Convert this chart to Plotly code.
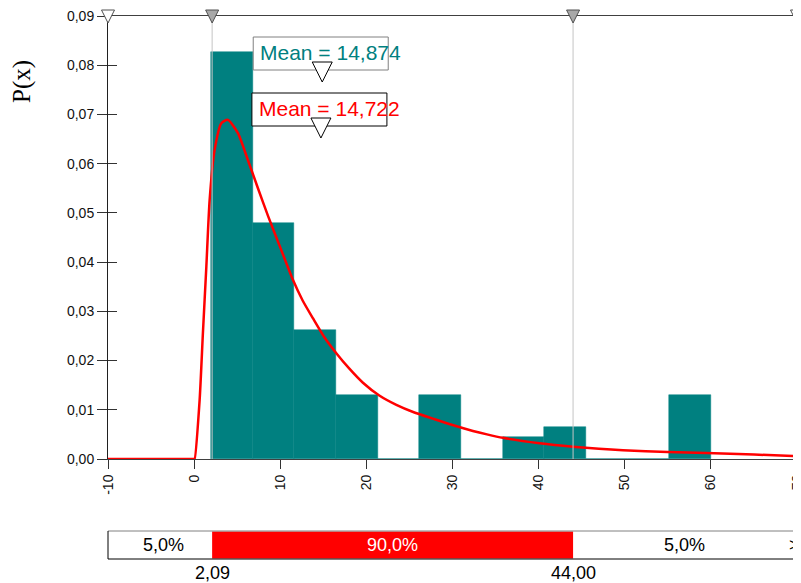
import plotly.graph_objects as go

# ---------------- data ----------------
bin_left = [1.95, 6.79, 11.63, 16.46, 21.30, 26.14, 30.98, 35.81, 40.65, 45.49, 50.33, 55.16]
bin_width = 4.84
density = [0.0827, 0.0480, 0.0262, 0.0131, 0.0, 0.0131, 0.0, 0.0044, 0.0066, 0.0, 0.0, 0.0131]

curve_x = [-10, 0, 0.06, 0.64, 1.02, 1.42, 1.80, 2.38, 3.16, 3.92, 5.09, 6.25, 7.41, 8.60, 9.93,
           11.47, 12.60, 13.79, 15.10, 16.51, 18.00, 19.60, 21.50, 23.48, 25.50, 27.73, 30.00, 32.37,
           34.00, 35.85, 40.12, 43.98, 47.00, 49.79, 55.00, 59.47, 65.00, 70]
curve_y = [0, 0, 0, 0.0120, 0.0256, 0.0391, 0.0526, 0.0628, 0.0682, 0.0689, 0.0662, 0.0607, 0.0550, 0.0493, 0.0433,
           0.0364, 0.0322, 0.0286, 0.0248, 0.0215, 0.0184, 0.0155, 0.0129, 0.0110, 0.0095, 0.0082, 0.0069, 0.0057,
           0.0050, 0.0043, 0.0032, 0.0025, 0.0021, 0.0018, 0.0014, 0.0012, 0.0009, 0.0006]

mean_data = 14.874
mean_fit = 14.722
pct_lo, pct_hi = 2.09, 44.00
pct_labels = ["5,0%", "90,0%", "5,0%"]

x_ticks = [-10, 0, 10, 20, 30, 40, 50, 60, 70]
y_ticks = [0, 0.01, 0.02, 0.03, 0.04, 0.05, 0.06, 0.07, 0.08, 0.09]
x_range = [-10, 70]
y_range = [0, 0.09]

# ---------------- layout geometry (window pixels) ----------------
W, H = 801, 583
OFF = 8  # page body margin
L, R, T, B = 108, 797, 16, 459
PW, PH = R - L, B - T
FONT = "Liberation Sans, Arial, sans-serif"
TEAL = "#008080"


def paper_x(v):
    return (v - x_range[0]) / (x_range[1] - x_range[0])


def dx(pix):
    return pix / PW


def row(pix_y):
    return (B - pix_y) / PH


def comma(v, nd):
    return f"{v:.{nd}f}".replace(".", ",")


fig = go.Figure()

fig.add_trace(go.Bar(
    x=bin_left, y=density, width=[bin_width] * len(bin_left), offset=0,
    marker=dict(color=TEAL, line=dict(color=TEAL, width=0.5)),
    hoverinfo="skip", showlegend=False,
))
fig.add_trace(go.Scatter(
    x=curve_x, y=curve_y, mode="lines",
    line=dict(color="#ff0000", width=2.5, shape="spline", smoothing=0.6),
    hoverinfo="skip", showlegend=False,
))
# invisible trace to activate the overlay axis for inner tick marks
fig.add_trace(go.Scatter(x=[x_range[0]], y=[0], yaxis="y2", mode="markers",
                         marker=dict(opacity=0), hoverinfo="skip", showlegend=False))

shapes = []
for v in (pct_lo, pct_hi):
    shapes.append(dict(type="line", xref="paper", yref="paper", x0=paper_x(v), x1=paper_x(v),
                       y0=0, y1=1, line=dict(color="#c4c4c4", width=1), layer="above"))

annotations = []
for mean, color, border, top, bot in ((mean_data, TEAL, "#808080", 37, 70),
                                      (mean_fit, "#ff0000", "#000000", 93, 126)):
    cx = paper_x(mean)
    shapes.append(dict(type="rect", xref="paper", yref="paper",
                       x0=cx - dx(69), x1=cx + dx(66), y0=row(bot), y1=row(top),
                       fillcolor="white", line=dict(color=border, width=1), layer="above"))
    ttop, ttip = bot - 8, bot + 12
    shapes.append(dict(type="path", xref="paper", yref="paper",
                       path=f"M {cx - dx(10)},{row(ttop)} L {cx + dx(10)},{row(ttop)} L {cx},{row(ttip)} Z",
                       fillcolor="white", line=dict(color="#000000", width=1), layer="above"))
    annotations.append(dict(xref="paper", yref="paper", x=cx - dx(64), y=row((top + bot) / 2 - 1.5),
                            xanchor="left", yanchor="middle", showarrow=False,
                            text="Mean = " + comma(mean, 3),
                            font=dict(family=FONT, size=21, color=color)))

for v, fill in ((x_range[0], "white"), (pct_lo, "#a8a8a8"), (pct_hi, "#a8a8a8"), (x_range[1], "white")):
    cx = paper_x(v)
    shapes.append(dict(type="path", xref="paper", yref="paper",
                       path=f"M {cx - dx(6.5)},{row(10)} L {cx + dx(6.5)},{row(10)} L {cx},{row(23)} Z",
                       fillcolor=fill, line=dict(color="#505050", width=1), layer="above"))

bar_top, bar_bot = 531, 559
right_end = (W - L) / PW
shapes.append(dict(type="rect", xref="paper", yref="paper", x0=paper_x(pct_lo), x1=paper_x(pct_hi),
                   y0=row(bar_bot - 0.5), y1=row(bar_top + 0.5), fillcolor="#ff0000",
                   line=dict(width=0), layer="above"))
shapes.append(dict(type="line", xref="paper", yref="paper", x0=0, x1=right_end,
                   y0=row(bar_top), y1=row(bar_top), line=dict(color="#808080", width=1)))
shapes.append(dict(type="line", xref="paper", yref="paper", x0=0, x1=right_end,
                   y0=row(bar_bot), y1=row(bar_bot), line=dict(color="#000000", width=1)))
shapes.append(dict(type="line", xref="paper", yref="paper", x0=0, x1=0,
                   y0=row(bar_bot), y1=row(bar_top), line=dict(color="#000000", width=1)))

mid_row = row((bar_top + bar_bot) / 2)
seg_centers = [(0 + paper_x(pct_lo)) / 2 + dx(3),
               (paper_x(pct_lo) + paper_x(pct_hi)) / 2,
               paper_x(pct_hi) + dx(111)]
seg_colors = ["#000000", "#ffffff", "#000000"]
for c, t, col in zip(seg_centers, pct_labels, seg_colors):
    annotations.append(dict(xref="paper", yref="paper", x=c, y=mid_row, xanchor="center", yanchor="middle",
                            showarrow=False, text=t, font=dict(family=FONT, size=18, color=col)))
annotations.append(dict(xref="paper", yref="paper", x=dx(794 - L), y=mid_row, xanchor="center",
                        yanchor="middle", showarrow=False, text=">",
                        font=dict(family=FONT, size=18, color="#000000")))
for v in (pct_lo, pct_hi):
    annotations.append(dict(xref="paper", yref="paper", x=paper_x(v), y=row(573), xanchor="center",
                            yanchor="middle", showarrow=False, text=comma(v, 2),
                            font=dict(family=FONT, size=18, color="#000000")))

annotations.append(dict(xref="paper", yref="paper", x=dx(22 - L), y=row(82), xanchor="center",
                        yanchor="middle", showarrow=False, text="P(x)", textangle=-90,
                        font=dict(family="Liberation Serif, Times New Roman, serif", size=25, color="#000000")))

FW, FH = W - OFF, H - OFF
fig.update_layout(
    width=FW, height=FH,
    margin=dict(l=L - OFF, r=FW - (R - OFF), t=T - OFF, b=FH - (B - OFF), autoexpand=False),
    paper_bgcolor="white", plot_bgcolor="white",
    separators=",.",
    font=dict(family=FONT, size=14, color="#111111"),
    showlegend=False,
    bargap=0,
    xaxis=dict(range=x_range, tickvals=x_ticks, ticktext=[str(v) for v in x_ticks], tickangle=-90,
               ticks="outside", ticklen=9, tickcolor="#333333", showline=True, linecolor="#404040",
               linewidth=1, mirror=True, showgrid=False, zeroline=False, ticklabeloverflow="allow",
               tickfont=dict(family=FONT, size=14, color="#111111")),
    yaxis=dict(range=y_range, tickvals=y_ticks, tickformat=".2f", ticks="outside", ticklen=10,
               tickcolor="#333333", showline=True, linecolor="#202020", linewidth=1, mirror=True,
               showgrid=False, zeroline=False, ticklabeloverflow="allow",
               tickfont=dict(family=FONT, size=14, color="#111111")),
    yaxis2=dict(range=y_range, overlaying="y", side="left", tickvals=y_ticks, ticks="inside", ticklen=9,
                tickcolor="#333333", showticklabels=False, showline=False, showgrid=False, zeroline=False),
    shapes=shapes,
    annotations=annotations,
)

fig.write_html("out.html")
